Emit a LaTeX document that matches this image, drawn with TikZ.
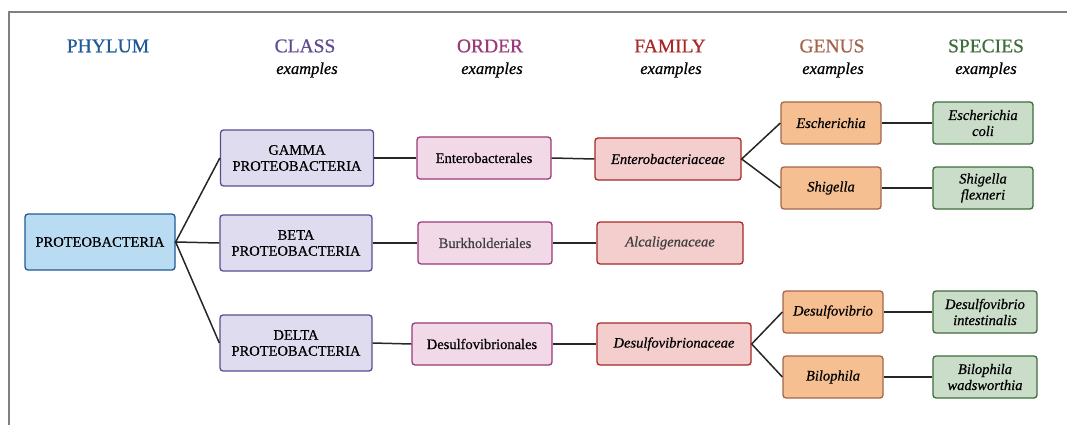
\documentclass[tikz,border=0pt]{standalone}
\usepackage{fontspec}
\setmainfont{Liberation Serif}[FakeBold=0.6]

\definecolor{phylumc}{HTML}{1F5A96}
\definecolor{phylumf}{HTML}{B9DCF3}
\definecolor{classc}{HTML}{5E4A91}
\definecolor{classf}{HTML}{E0DCEF}
\definecolor{orderc}{HTML}{9A3A78}
\definecolor{orderf}{HTML}{F2D9E8}
\definecolor{familyc}{HTML}{A82828}
\definecolor{familyf}{HTML}{F4CDCD}
\definecolor{genusc}{HTML}{A3654C}
\definecolor{genusf}{HTML}{F6BF91}
\definecolor{speciesc}{HTML}{3E6D3C}
\definecolor{speciesf}{HTML}{C9DDC8}

\tikzset{
  taxbox/.style={draw, rounded corners=3pt, line width=1.3pt, align=center,
    inner sep=0pt, font=\fontsize{14.5}{16}\selectfont},
  taxit/.style={taxbox, font=\fontsize{14.5}{16}\itshape\selectfont},
  head/.style={font=\fontsize{19.5}{20}\selectfont},
  examp/.style={font=\fontsize{16.5}{17}\itshape\selectfont},
  link/.style={line width=1.5pt, draw=black!85},
}

\begin{document}
\begin{tikzpicture}[x=1pt,y=-1pt]
    \useasboundingbox (0,0) rectangle (1067,425);
    \draw[gray, line width=1.5pt] (9,425) -- (9,12) -- (1067,12);

    % column headings
    \node[head, text=phylumc] (hphylum) at (108,46) {PHYLUM};
    \node[head, text=classc] (hclass) at (305,46) {CLASS};
    \node[head, text=orderc] (horder) at (490,46) {ORDER};
    \node[head, text=familyc] (hfamily) at (670,46) {FAMILY};
    \node[head, text=genusc] (hgenus) at (832,46) {GENUS};
    \node[head, text=speciesc] (hspecies) at (986,46) {SPECIES};
    \node[examp] (eclass) at (307,70) {examples};
    \node[examp] (eorder) at (492,70) {examples};
    \node[examp] (efamily) at (671,70) {examples};
    \node[examp] (egenus) at (833,70) {examples};
    \node[examp] (especies) at (986,70) {examples};

    % phylum
    \node[taxbox, draw=phylumc, fill=phylumf, minimum width=150, minimum height=56]
      (proteo) at (100,242) {PROTEOBACTERIA};

    % class
    \node[taxbox, draw=classc, fill=classf, minimum width=153, minimum height=56]
      (gamma) at (297,158) {GAMMA\\PROTEOBACTERIA};
    \node[taxbox, draw=classc, fill=classf, minimum width=152, minimum height=56]
      (beta) at (296,243) {BETA\\PROTEOBACTERIA};
    \node[taxbox, draw=classc, fill=classf, minimum width=152, minimum height=56]
      (delta) at (296,343) {DELTA\\PROTEOBACTERIA};

    % order
    \node[taxbox, draw=orderc, fill=orderf, minimum width=134, minimum height=42]
      (entbales) at (484,158) {Enterobacterales};
    \node[taxbox, draw=orderc, fill=orderf, minimum width=134, minimum height=42,
      text=black!75] (burk) at (485,243) {Burkholderiales};
    \node[taxbox, draw=orderc, fill=orderf, minimum width=140, minimum height=42]
      (desales) at (482,344) {Desulfovibrionales};

    % family
    \node[taxit, draw=familyc, fill=familyf, minimum width=146, minimum height=42]
      (entceae) at (668,159) {Enterobacteriaceae};
    \node[taxit, draw=familyc, fill=familyf, minimum width=146, minimum height=42,
      text=black!75] (alca) at (670,243) {Alcaligenaceae};
    \node[taxit, draw=familyc, fill=familyf, minimum width=154, minimum height=42]
      (desceae) at (674,344) {Desulfovibrionaceae};

    % genus
    \node[taxit, draw=genusc, fill=genusf, minimum width=100, minimum height=42]
      (esch) at (831,123) {Escherichia};
    \node[taxit, draw=genusc, fill=genusf, minimum width=100, minimum height=42]
      (shig) at (831,188) {Shigella};
    \node[taxit, draw=genusc, fill=genusf, minimum width=100, minimum height=42]
      (desv) at (833,312) {Desulfovibrio};
    \node[taxit, draw=genusc, fill=genusf, minimum width=100, minimum height=42]
      (biloph) at (833,377) {Bilophila};

    % species
    \node[taxit, draw=speciesc, fill=speciesf, minimum width=100, minimum height=42]
      (ecoli) at (983,123) {Escherichia\\coli};
    \node[taxit, draw=speciesc, fill=speciesf, minimum width=100, minimum height=42]
      (sflex) at (983,188) {Shigella\\flexneri};
    \node[taxit, draw=speciesc, fill=speciesf, minimum width=104, minimum height=42]
      (dint) at (985,312) {Desulfovibrio\\intestinalis};
    \node[taxit, draw=speciesc, fill=speciesf, minimum width=104, minimum height=42]
      (bwad) at (985,377) {Bilophila\\wadsworthia};

    % links
    \draw[link] (gamma.west) -- (proteo.east) -- (beta.west);
    \draw[link] (proteo.east) -- (delta.west);
    \draw[link] (gamma.east) -- (entbales.west);
    \draw[link] (beta.east) -- (burk.west);
    \draw[link] (delta.east) -- (desales.west);
    \draw[link] (entbales.east) -- (entceae.west);
    \draw[link] (burk.east) -- (alca.west);
    \draw[link] (desales.east) -- (desceae.west);
    \draw[link] (esch.west) -- (entceae.east) -- (shig.west);
    \draw[link] (desv.west) -- (desceae.east) -- (biloph.west);
    \draw[link] (esch.east) -- (ecoli.west);
    \draw[link] (shig.east) -- (sflex.west);
    \draw[link] (desv.east) -- (dint.west);
    \draw[link] (biloph.east) -- (bwad.west);
\end{tikzpicture}
\end{document}
